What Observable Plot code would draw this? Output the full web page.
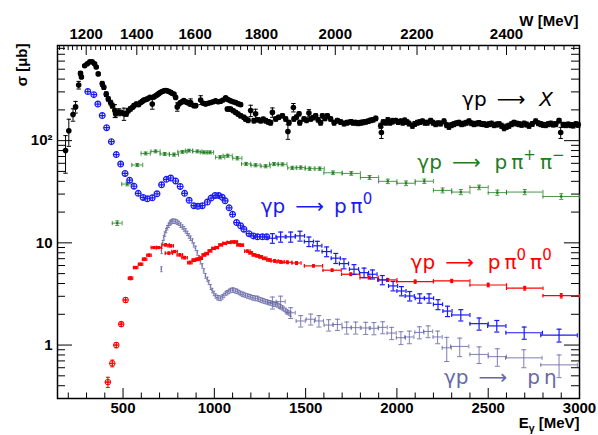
<!DOCTYPE html>
<html><head><meta charset="utf-8">
<script src="https://cdn.jsdelivr.net/npm/d3@7"></script>
<script src="https://cdn.jsdelivr.net/npm/@observablehq/plot@0.6"></script>
<style>body{margin:0;background:#fff}svg{display:block}</style>
</head><body><div id="chart"></div>
<script>
// ---- data: [E_gamma (MeV), sigma (µb), sigma error, half bin width] ----
const TOTAL = [
[185,80,32],[203,125,37],[226,180,25],[240,214,28],[257,350,30],[267,455,20],[272,420,15],[290,540,15],[304,565,15],[318,590,15],[331,590,15],[344,565,15],[353,525,15],[364,450,15],[386,360,20],[395,333,15],[408,285,15],[419,256,12],[432,236,12],[441,220,12],[455,197,28],[459,183,15],[477,190,15],[490,188,10],[505,183,25],[518,183,10],[529,197,10],[541,205,10],[552,212,8],[560,220,10],[573,228,10],[585,225,8],[596,236,8],[605,242,8],[614,250,8],[624,252,8],[633,256,8],[647,265,8],[660,228,25],[669,268,8],[678,275,8],[688,282,8],[697,290,8],[706,298,8],[715,303,8],[724,307,8],[733,309,8],[742,307,8],[751,303,8],[760,298,8],[766,292,8],[779,285,8],[788,265,8],[797,214,20],[806,228,8],[815,236,8],[824,240,8],[833,247,8],[843,240,8],[852,236,8],[861,232,8],[870,236,20],[888,220,8],[898,220,8],[925,250,25],[940,232,8],[952,228,8],[966,232,8],[980,236,8],[994,240,8],[1007,245,8],[1021,240,8],[1035,243,8],[1048,250,8],[1062,263,8],[1075,252,8],[1089,245,8],[1103,240,8],[1117,236,8],[1130,230,8],[1144,225,8],
[1071,204,8],[1080,204,8],[1089,204,8],[1103,196,8],[1117,189,8],[1130,182,8],[1144,175,8],[1162,169,8],[1171,163,8],[1185,158,8],[1199,197,25],[1217,157,8],[1226,183,20],[1240,160,8],[1254,157,8],[1268,162,8],[1281,157,8],[1295,153,8],[1308,150,8],[1318,189,20],[1336,163,8],[1352,169,8],[1373,175,8],[1391,163,8],[1403,123,20],[1409,150,8],[1433,211,20],[1436,163,8],[1450,170,8],[1464,183,8],[1468,150,8],[1491,163,8],[1505,158,8],[1518,186,15],[1528,163,8],[1541,168,8],[1555,175,8],[1568,160,8],[1582,150,8],[1592,175,8],[1606,165,8],[1619,175,8],[1637,163,8],[1656,150,8],[1674,157,8],[1692,152,8],[1710,147,8],[1727,150,8],[1747,153,8],[1760,150,8],[1774,150,8],[1788,148,8],[1802,150,8],[1815,151,8],[1829,153,8],[1843,155,8],[1856,158,8],[1870,160,8],[1884,165,8],[1911,140,8],[1915,120,15],[1925,152,8],[1939,150,8],[1950,158,10],[1962,150,8],[1975,155,10],[1993,157,8],[2007,152,8],[2021,155,8],[2032,150,8],[2043,158,8],[2055,152,8],[2066,147,8],[2085,140,8],[2098,146,8],[2112,150,8],[2126,152,8],[2140,155,8],[2153,150,8],[2167,150,8],[2185,157,8],[2198,150,8],[2212,145,8],[2226,148,8],[2240,147,8],[2258,155,8],[2272,142,8],[2285,137,8],[2299,142,8],[2312,145,8],[2326,148,8],[2340,150,8],[2354,145,8],[2367,147,8],[2381,150,8],[2395,155,8],[2408,148,8],[2422,145,8],[2436,147,8],[2450,149,8],[2463,146,8],[2477,145,8],[2491,143,8],[2505,145,8],[2518,147,8],[2532,142,8],[2546,144,8],[2560,145,8],[2573,140,8],[2587,133,8],[2600,137,8],[2614,140,8],[2628,145,8],[2641,150,8],[2655,147,8],[2669,145,8],[2683,143,8],[2696,147,8],[2710,144,8],[2724,140,8],[2742,146,8],[2760,155,8],[2774,148,8],[2788,145,8],[2801,143,8],[2815,142,8],[2829,145,8],[2843,147,8],[2856,144,8],[2870,145,8],[2888,157,8],[2897,120,15],[2911,143,8],[2925,142,8],[2938,144,8],[2952,142,8],[2966,141,8],[2980,145,8],[2993,143,8]
];
const PIPI_CHARGED = [
[468,15.6,0.8,27],[523,37.6,1.5,30],[578,57.8,2,30],[624,75,2.5,25],[678,78.5,2.5,25],[728,74.1,2.5,25],[779,73,2.5,25],[825,77.6,2.5,25],[861,79.8,2.5,20],[907,78.5,2.5,25],[943,76.8,2.5,20],[976,76.8,2.5,20],[1032,68.8,2.5,25],[1073,71.2,2.5,25],[1126,67.3,2.5,25],[1174,59.2,2,25],[1226,57.5,2,25],[1281,56.2,2,25],[1327,59,2,25],[1373,58.6,2,25],[1427,54.1,2,25],[1473,54.5,2,25],[1522,53.2,2,25],[1577,53.2,2,25],[1650,48.5,2,50],[1750,47.8,2,50],[1850,43.6,2,50],[1950,40,2,50],[2050,38.3,2,50],[2150,40.1,2,50],[2250,32.6,1.8,50],[2350,31.4,1.8,50],[2450,34.9,1.8,50],[2550,31,1.8,50],[2700,31.4,1.8,100],[2900,28.4,1.8,100]
];
const PI0_LOW = [
[307,302],[340,282],[362,228],[386,176],[410,134],[436,97.8],[463,73],[487,59],[511,47.8],[536,41],[560,35.8],[583,30.5],[610,27.8],[633,27],[660,27.6],[686,30.2],[711,37],[737,41.8],[761,43.1],[788,40.3],[813,35.6],[837,30.5],[862,26.1],[888,23.1],[910,22.8],[934,23.1],[962,25.1],[982,27.4],[1004,29.1],[1024,29],[1043,27.9],[1059,25.8],[1081,22],[1100,19],[1122,15.8],[1144,14.7],[1162,13.6],[1190,12.3],[1214,11.7],[1236,11.45],[1263,11.45],[1287,11.45]
];
const PI0_HIGH = [
[1318,11.1,1.2,25],[1363,11.45,1.3,25],[1418,11.45,1.3,25],[1469,11.7,1.3,25],[1518,10.3,1.1,25],[1564,9.35,1.0,25],[1615,8.22,0.9,25],[1665,7.08,0.8,25],[1710,6.27,0.7,25],[1765,5.52,0.6,25],[1820,5.11,0.55,25],[1866,4.93,0.5,25],[1920,4.34,0.45,25],[1979,3.79,0.4,25],[2025,3.38,0.35,25],[2070,3.02,0.32,25],[2125,2.87,0.3,25],[2176,2.87,0.3,25],[2225,2.5,0.28,25],[2277,2.15,0.25,25],[2350,1.97,0.25,50],[2450,1.62,0.22,50],[2547,1.54,0.2,50],[2697,1.32,0.18,100],[2888,1.25,0.18,100]
];
const PI0PI0_LOW = [
[417,0.434,0.05,15],[441,0.662,0.05,12],[463,1.0,0.06,12],[490,1.6,0.08,12],[514,2.76,0.15,12]
];
const PI0PI0 = [
[541,4.51,0.15,12],[569,5.73,0.15,12],[596,6.18,0.15,12],[618,6.92,0.2,12],[642,7.57,0.2,12],[669,8.99,0.2,15],[696,8.99,0.2,15],[733,9.55,0.25,20],[761,9.35,0.25,15],[751,7.93,0.2,20],[782,8.22,0.2,15],[811,7.62,0.2,15],[837,7.16,0.2,15],[866,6.41,0.2,12],[888,6.77,0.2,10],[907,6.9,0.2,10],[925,7.08,0.2,10],[943,7.62,0.2,10],[958,7.85,0.2,10],[976,8.35,0.2,10],[996,8.83,0.2,10],[1013,9.0,0.2,10],[1035,9.55,0.2,10],[1056,9.89,0.2,10],[1080,10.1,0.2,10],[1100,10.2,0.2,10],[1117,10.2,0.2,10],[1133,9.55,0.2,10],[1150,9.5,0.2,10],[1181,8.3,0.2,15],[1199,7.98,0.2,10],[1217,7.62,0.2,10],[1237,7.46,0.2,10],[1254,7.29,0.2,10],[1276,7.05,0.2,12],[1299,6.81,0.2,12],[1330,6.66,0.2,20],[1363,6.51,0.2,20],[1400,6.45,0.2,25],[1450,6.35,0.2,25],[1543,5.95,0.15,50],[1645,5.4,0.15,50],[1747,4.93,0.15,50],[1848,4.57,0.15,50],[1950,4.34,0.15,50],[2100,4.17,0.15,100],[2300,4.24,0.15,100],[2500,3.87,0.15,100],[2700,3.6,0.15,100],[2900,3.04,0.15,100]
];
const ETA_LOW = [
[710,5.52,0.3,4],[711,8.35,0.5,4],[718,10.07,0.5,4],[724,11.2,0.55,4],[729,12.2,0.6,4],[736,13.2,0.65,4],[742,14.1,0.7,4],[750,14.9,0.75,4],[757,15.6,0.8,4],[763,16.0,0.8,4],[770,16.3,0.8,4],[779,16.3,0.8,4],[788,16.2,0.8,4],[797,15.9,0.8,4],[806,15.5,0.75,4],[815,14.9,0.75,4],[825,14.3,0.7,4],[834,13.7,0.7,4],[843,13.1,0.65,4],[852,12.4,0.6,4],[861,11.7,0.6,4],[870,11.1,0.55,4],[880,10.45,0.5,4],[888,9.55,0.45,4],[898,8.83,0.45,4],[907,7.98,0.4,4],[916,7.17,0.35,4],[925,6.51,0.3,4],[934,5.95,0.3,4],[943,5.31,0.25,4],[952,4.75,0.25,4],[962,4.41,0.2,4],[970,4.1,0.2,4],[980,3.7,0.2,4],[989,3.42,0.17,4],[998,3.2,0.16,4],[1007,3.02,0.15,4],[1016,2.92,0.15,4],[1025,2.89,0.15,4],[1035,2.87,0.15,4],[1044,2.96,0.15,4],[1053,3.06,0.15,4],[1062,3.2,0.16,4],[1071,3.26,0.16,4],[1080,3.35,0.17,4],[1089,3.42,0.17,4],[1099,3.46,0.17,4],[1107,3.44,0.17,4],[1117,3.38,0.17,4],[1126,3.35,0.17,4],[1135,3.27,0.16,4],[1144,3.2,0.16,4],[1153,3.14,0.16,4],[1162,3.12,0.16,4],[1171,3.06,0.15,4],[1181,3.02,0.15,4],[1190,2.99,0.15,4],[1199,2.96,0.15,4],[1208,2.91,0.15,4],[1217,2.89,0.15,4],[1226,2.86,0.15,4],[1236,2.86,0.15,4],[1244,2.81,0.14,4],[1254,2.76,0.14,4],[1263,2.73,0.14,4],[1272,2.7,0.14,4],[1281,2.66,0.13,4],[1290,2.64,0.13,4],[1299,2.6,0.13,4],[1308,2.58,0.13,4],[1318,2.55,0.13,4],[1327,2.52,0.13,4],[1336,2.49,0.12,4],[1345,2.47,0.12,4],[1354,2.41,0.12,4],[1363,2.36,0.12,4],[1373,2.31,0.12,4],[1381,2.25,0.11,4],[1391,2.18,0.11,4],[1400,2.11,0.11,4],[1408,2.06,0.1,4],[1418,2.01,0.1,4]
];
const ETA_HIGH = [
[1318,2.6,0.35,25],[1363,2.66,0.35,25],[1418,2.07,0.25,25],[1473,1.72,0.22,25],[1528,1.79,0.22,25],[1573,1.72,0.22,25],[1626,1.57,0.2,25],[1674,1.59,0.2,25],[1725,1.48,0.2,25],[1774,1.48,0.2,25],[1829,1.47,0.2,25],[1874,1.46,0.2,25],[1922,1.49,0.2,25],[1971,1.31,0.18,25],[2022,1.18,0.17,25],[2068,1.2,0.17,25],[2123,1.33,0.18,25],[2171,1.36,0.18,25],[2223,1.2,0.17,25],[2273,0.94,0.25,25],[2344,0.97,0.2,50],[2450,0.81,0.15,50],[2550,0.77,0.15,50],[2695,0.75,0.15,100],[2888,0.64,0.16,100]
];
// axis ticks
const X_MAJOR = [500,1000,1500,2000,2500,3000];
const X_MINOR = [200,300,400,600,700,800,900,1100,1200,1300,1400,1600,1700,1800,1900,2100,2200,2300,2400,2600,2700,2800,2900];
const W_MAJOR = [1200,1400,1600,1800,2000,2200,2400];
const W_MINOR_STEP = 20;
const Y_MAJOR = [1,10,100];
const Y_MINOR = [0.3,0.4,0.5,0.6,0.7,0.8,0.9,2,3,4,5,6,7,8,9,20,30,40,50,60,70,80,90,200,300,400,500,600,700,800];
const LABELS = [
  "γp\u2002⟶\u2002\u2009*{X}",
  "γp\u2002⟶\u2002\u2009p\u2009π^{+}\u2009π^{−}",
  "γp\u2002⟶\u2002p\u2009π^{0}",
  "γp\u2002⟶\u2002\u2009p\u2009π^{0}\u2009π^{0}",
  "γp\u2002⟶\u2003p\u2009η"
];

// ---- conversions for the W (top) axis ----
const MP = 938.272;
const EtoW = e => Math.sqrt(MP * MP + 2 * MP * e);
const WtoE = w => (w * w - MP * MP) / (2 * MP);
const W_MINOR = d3.range(1080, 2560, W_MINOR_STEP).filter(w => w % 200 !== 0);

// ---- layout ----
const WIDTH = 598, HEIGHT = 435, ML = 57, MR = 19, MT = 45, MB = 37;
const FW = WIDTH - ML - MR, FH = HEIGHT - MT - MB;

const C_TOT = "#000000", C_PP = "#1f7d1f", C_PI0 = "#1a1af5", C_PI0PI0 = "#ff0000", C_ETA = "#6868a6";

// custom symbols
const rad = s => Math.sqrt(s / Math.PI);
const HCAP = {draw(c, s) { const r = rad(s); c.moveTo(-r, 0); c.lineTo(r, 0); }};
const VCAP = {draw(c, s) { const r = rad(s); c.moveTo(0, -r); c.lineTo(0, r); }};
const OPLUS = {draw(c, s) { const r = rad(s); c.moveTo(r, 0); c.arc(0, 0, r, 0, 2 * Math.PI); c.moveTo(-r, 0); c.lineTo(r, 0); c.moveTo(0, -r); c.lineTo(0, r); }};

function errorBars(data, color, {capV = 2.2, capH = 0, sw = 1, op = 1} = {}) {
  const v = data.filter(d => d[2] > 0), h = data.filter(d => d[3] > 0);
  const ms = [
    Plot.ruleX(v, {x: d => d[0], y1: d => d[1] - d[2], y2: d => d[1] + d[2], stroke: color, strokeWidth: sw, strokeOpacity: op}),
    Plot.ruleY(h, {y: d => d[1], x1: d => d[0] - d[3], x2: d => d[0] + d[3], stroke: color, strokeWidth: sw, strokeOpacity: op})
  ];
  if (capV) {
    ms.push(Plot.dot(v, {x: d => d[0], y: d => d[1] + d[2], symbol: HCAP, r: capV, stroke: color, fill: "none", strokeWidth: sw, strokeOpacity: op}));
    ms.push(Plot.dot(v, {x: d => d[0], y: d => d[1] - d[2], symbol: HCAP, r: capV, stroke: color, fill: "none", strokeWidth: sw, strokeOpacity: op}));
  }
  if (capH) {
    ms.push(Plot.dot(h, {x: d => d[0] - d[3], y: d => d[1], symbol: VCAP, r: capH, stroke: color, fill: "none", strokeWidth: sw, strokeOpacity: op}));
    ms.push(Plot.dot(h, {x: d => d[0] + d[3], y: d => d[1], symbol: VCAP, r: capH, stroke: color, fill: "none", strokeWidth: sw, strokeOpacity: op}));
  }
  return ms;
}

const labelOpts = {textAnchor: "start", fontSize: 20, fontWeight: "normal", fontFamily: "DejaVu Sans, sans-serif"};

const chart = Plot.plot({
  width: WIDTH, height: HEIGHT,
  marginLeft: ML, marginRight: MR, marginTop: MT, marginBottom: MB,
  style: {fontFamily: "Liberation Sans, Arial, sans-serif", fontSize: "15px", fontWeight: "bold", background: "#fff", color: "#000"},
  x: {domain: [141, 3000], axis: null},
  y: {type: "log", domain: [0.3, 853], axis: null},
  marks: [
    // ticks (ROOT style, pointing inward)
    Plot.tickX(X_MAJOR, {x: d => d, insetTop: FH - 10, stroke: "#000"}),
    Plot.tickX(X_MINOR, {x: d => d, insetTop: FH - 5.5, stroke: "#000"}),
    Plot.tickX(W_MAJOR, {x: d => WtoE(d), insetBottom: FH - 10, stroke: "#000"}),
    Plot.tickX(W_MINOR, {x: d => WtoE(d), insetBottom: FH - 5, stroke: "#000"}),
    Plot.tickY(Y_MAJOR, {y: d => d, insetRight: FW - 15, stroke: "#000"}),
    Plot.tickY(Y_MINOR, {y: d => d, insetRight: FW - 8, stroke: "#000"}),
    Plot.tickY(Y_MAJOR, {y: d => d, insetLeft: FW - 15, stroke: "#000"}),
    Plot.tickY(Y_MINOR, {y: d => d, insetLeft: FW - 8, stroke: "#000"}),
    Plot.frame({stroke: "#000", strokeWidth: 1.5}),
    // tick labels
    Plot.axisX({anchor: "bottom", ticks: X_MAJOR, tickFormat: d => String(d), tickSize: 0, tickPadding: 4, label: null}),
    Plot.axisX({anchor: "top", ticks: W_MAJOR.map(WtoE), tickFormat: e => String(Math.round(EtoW(e))), tickSize: 0, tickPadding: 7, label: null}),
    Plot.axisY({anchor: "left", ticks: Y_MAJOR, tickFormat: d => d === 100 ? "10²" : String(d), tickSize: 0, tickPadding: 5, label: null}),
    // axis titles
    Plot.text(["σ [μb]"], {frameAnchor: "top-left", text: d => d, rotate: -90, textAnchor: "end", dx: -41, dy: -2}),
    Plot.text(["E_{γ} [MeV]"], {frameAnchor: "bottom-right", text: d => d, textAnchor: "end", dy: 29}),
    Plot.text(["W [MeV]"], {frameAnchor: "top-right", text: d => d, textAnchor: "end", dx: -1, dy: -30}),
    // p eta
    ...errorBars(ETA_LOW, C_ETA, {capV: 1.2, op: 0.9}),
    ...errorBars(ETA_HIGH, C_ETA, {capV: 2.5, capH: 2, op: 0.85}),
    // p pi+ pi-
    ...errorBars(PIPI_CHARGED, C_PP, {capV: 2, capH: 2.2, op: 0.8}),
    Plot.dot(PIPI_CHARGED, {x: d => d[0], y: d => d[1], symbol: "square", r: 1.3, fill: C_PP}),
    // p pi0 pi0
    ...errorBars(PI0PI0_LOW, C_PI0PI0, {capV: 2, capH: 0}),
    Plot.dot(PI0PI0_LOW, {x: d => d[0], y: d => d[1], symbol: OPLUS, r: 2.8, stroke: C_PI0PI0, fill: "none", strokeWidth: 1}),
    ...errorBars(PI0PI0, C_PI0PI0, {capV: 1.5, capH: 1.8, sw: 1.2}),
    Plot.dot(PI0PI0, {x: d => d[0], y: d => d[1], symbol: "square", r: 1.6, fill: C_PI0PI0}),
    // p pi0
    Plot.dot(PI0_LOW, {x: d => d[0], y: d => d[1], symbol: OPLUS, r: 2.9, stroke: C_PI0, fill: "none", strokeWidth: 1.2}),
    ...errorBars(PI0_HIGH, C_PI0, {capV: 2.5, capH: 2, sw: 1.2}),
    // total
    ...errorBars(TOTAL, C_TOT, {capV: 2.2}),
    Plot.dot(TOTAL, {x: d => d[0], y: d => d[1], r: 2.8, fill: C_TOT}),
    // reaction labels
    Plot.text([LABELS[0]], {...labelOpts, x: 2357, y: 252, text: d => d, fill: C_TOT}),
    Plot.text([LABELS[1]], {...labelOpts, x: 2112, y: 61.3, text: d => d, fill: C_PP}),
    Plot.text([LABELS[2]], {...labelOpts, x: 1254, y: 22.5, text: d => d, fill: C_PI0}),
    Plot.text([LABELS[3]], {...labelOpts, x: 2075, y: 6.41, text: d => d, fill: C_PI0PI0}),
    Plot.text([LABELS[4]], {...labelOpts, x: 2258, y: 0.478, text: d => d, fill: C_ETA})
  ]
});
document.getElementById("chart").appendChild(chart);

// ---- rich text: ^{sup}, _{sub}, *{italic} ----
const NS = "http://www.w3.org/2000/svg";
chart.querySelectorAll("text").forEach(t => {
  const s = t.textContent;
  if (!/[\^_*]\{/.test(s)) return;
  const fs = parseFloat(getComputedStyle(t).fontSize) || 15;
  while (t.firstChild) t.removeChild(t.firstChild);
  const re = /([\^_*])\{([^}]*)\}/g;
  let last = 0, m, cur = 0;
  const add = (txt, off, kind) => {
    const ts = document.createElementNS(NS, "tspan");
    ts.textContent = txt;
    const dy = off - cur;
    if (dy) ts.setAttribute("dy", dy.toFixed(2));
    cur = off;
    if (kind === "^") ts.setAttribute("font-size", (fs * 0.75).toFixed(1));
    if (kind === "_") ts.setAttribute("font-size", (fs * 0.7).toFixed(1));
    if (kind === "*") ts.setAttribute("font-style", "italic");
    t.appendChild(ts);
  };
  while ((m = re.exec(s))) {
    if (m.index > last) add(s.slice(last, m.index), 0, null);
    add(m[2], m[1] === "^" ? -0.45 * fs : m[1] === "_" ? 0.3 * fs : 0, m[1]);
    last = re.lastIndex;
  }
  if (last < s.length) add(s.slice(last), 0, null);
});
</script>
</body></html>
